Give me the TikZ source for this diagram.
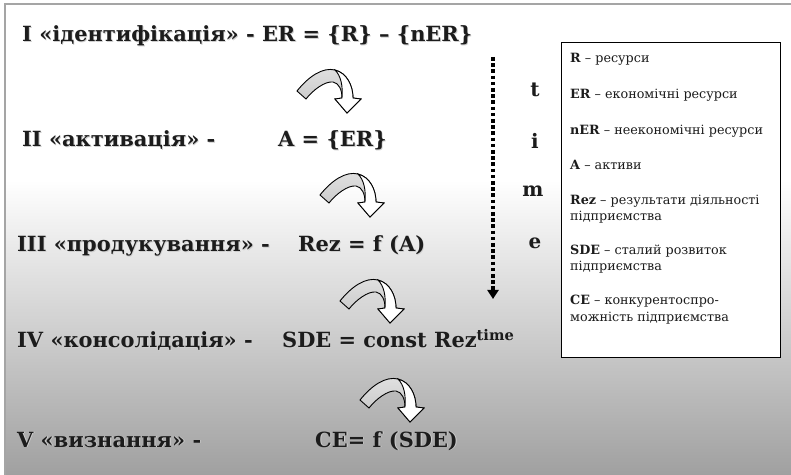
\documentclass[tikz,border=0pt]{standalone}
\usepackage{fontspec}
\setmainfont{DejaVu Serif}
\usetikzlibrary{arrows.meta}
\definecolor{bgbottom}{RGB}{160,160,160}
\definecolor{framegray}{RGB}{165,165,165}
\definecolor{txt}{RGB}{28,28,28}
\definecolor{arrowgray}{RGB}{195,195,195}
\definecolor{shadowgray}{RGB}{175,175,175}
\newcommand\shtxt[1]{\leavevmode\rlap{\kern0.9bp\raisebox{-0.9bp}{\textcolor{shadowgray!60}{#1}}}#1}
\tikzset{
  stage/.style={anchor=base west, inner sep=0pt, font=\fontsize{21}{24}\selectfont\bfseries, text=txt},
  legendline/.style={anchor=base west, inner sep=0pt, font=\fontsize{12.8}{15}\selectfont, text=txt},
  timeletter/.style={anchor=base, inner sep=0pt, font=\fontsize{20}{24}\selectfont\bfseries, text=txt},
  curvarrow/.pic={
    \path[draw=black, line width=0.9bp, top color=arrowgray!50, bottom color=arrowgray]
      (2,23) .. controls (14,8) and (28,-1) .. (40,2)
      .. controls (52,5) and (58,18) .. (58,30)
      -- (66,31) -- (52,45) -- (40,31) -- (47,30)
      .. controls (47,22) and (44,15) .. (38,14)
      .. controls (30,13) and (18,22) .. (11,31) -- cycle;
    \path[draw=black, line width=0.9bp, fill=white]
      (40,2) .. controls (52,5) and (58,18) .. (58,30)
      -- (66,31) -- (52,45) -- (40,31) -- (47,30)
      .. controls (48,18) and (46,8) .. (40,2) -- cycle;
  }
}
\begin{document}
\begin{tikzpicture}[x=1bp, y={(0bp,-1bp)}]
  \useasboundingbox (0,0) rectangle (791,475);
  % background
  \fill[white] (0,0) rectangle (791,475);
  \shade[top color=white, bottom color=bgbottom] (5,180) rectangle (791,475);
  \draw[framegray, line width=2.5bp] (5,475) -- (5,4) -- (791,4);

  % stages
  \node[stage] (s1) at (22,42) {\shtxt{I «ідентифікація» - ER = \{R\} – \{nER\}}};
  \node[stage] (s2) at (22,147) {\shtxt{II «активація» -}};
  \node[stage] (f2) at (278,147) {\shtxt{A = \{ER\}}};
  \node[stage] (s3) at (17,252) {\shtxt{III «продукування» -}};
  \node[stage] (f3) at (298,252) {\shtxt{Rez = f (A)}};
  \node[stage] (s4) at (17,348) {\shtxt{IV «консолідація» -}};
  \node[stage] (f4) at (282,348) {\shtxt{SDE = const Rez\textsuperscript{time}}};
  \node[stage] (s5) at (17,447) {\shtxt{V «визнання» -}};
  \node[stage] (f5) at (315,447) {\shtxt{CE= f (SDE)}};

  % curved arrows
  \pic at (295,68) {curvarrow};
  \pic at (318,172) {curvarrow};
  \pic at (338,278) {curvarrow};
  \pic at (358,377) {curvarrow};

  % time axis
  \coordinate (ts) at (493,57);
  \coordinate (te) at (493,299);
  \draw[line width=3.6bp, dash pattern=on 3.6bp off 2.6bp, -{Triangle[width=11bp,length=9bp]}] (ts) -- (te);
  \node[timeletter] (t1) at (535,97) {t};
  \node[timeletter] (t2) at (535,149) {i};
  \node[timeletter] (t3) at (533,197) {m};
  \node[timeletter] (t4) at (535,249) {e};

  % legend
  \node[draw=black, line width=1.3bp, fill=white, minimum width=219bp, minimum height=315bp, anchor=north west, inner sep=0pt] (leg) at (561,42) {};
  \node[legendline] (l1) at (570,63) {\textbf{R} – ресурси};
  \node[legendline] (l2) at (570,99) {\textbf{ER} – економічні ресурси};
  \node[legendline] (l3) at (570,135) {\textbf{nER} – неекономічні ресурси};
  \node[legendline] (l4) at (570,170) {\textbf{A} – активи};
  \node[legendline] (l5) at (570,205) {\textbf{Rez} – результати діяльності};
  \node[legendline] (l6) at (570,221) {підприємства};
  \node[legendline] (l7) at (570,255) {\textbf{SDE} – сталий розвиток};
  \node[legendline] (l8) at (570,271) {підприємства};
  \node[legendline] (l9) at (570,305) {\textbf{CE} – конкурентоспро-};
  \node[legendline] (l10) at (570,322) {можність підприємства};
\end{tikzpicture}
\end{document}
